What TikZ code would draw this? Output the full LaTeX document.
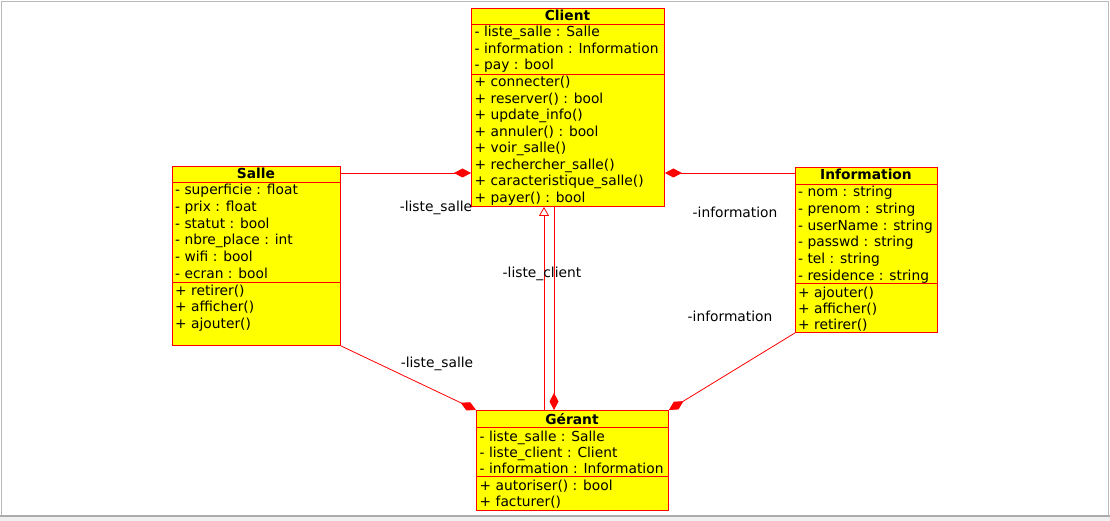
\documentclass[tikz,border=0pt]{standalone}
\usepackage{fontspec}
\setmainfont{DejaVu Sans}
\usetikzlibrary{arrows.meta}

\definecolor{umlyellow}{RGB}{255,255,0}
\definecolor{umlred}{RGB}{255,0,0}
\newcommand{\umlfont}{\fontsize{13.8}{16.5}\selectfont}
\tikzset{
  classbox/.style={draw=umlred, fill=umlyellow, line width=0.9pt, inner sep=0pt, anchor=north west},
  sepline/.style={draw=umlred, line width=0.9pt},
  member/.style={anchor=base west, inner sep=0pt, font=\umlfont},
  ctitle/.style={anchor=base, inner sep=0pt, font=\umlfont\bfseries},
  role/.style={anchor=base, inner sep=0pt, font=\umlfont},
  compo/.style={color=umlred, line width=0.8pt, -{Diamond[length=17pt,width=9pt]}},
  gener/.style={color=umlred, line width=0.8pt, -{Triangle[open,fill=white,length=9pt,width=10pt]}},
}

\begin{document}
\begin{tikzpicture}[x=1pt, y=-1pt]
\useasboundingbox (0,0) rectangle (1110,521);
% frame
\fill[gray!12] (0,517) rectangle (1110,521);
\draw[gray!55, line width=1pt] (1.5,516) -- (1.5,1.5) -- (1108.5,1.5) -- (1108.5,516);
\draw[gray!65, line width=2pt] (0,516) -- (1110,516);

% Client
\node[classbox, minimum width=193pt, minimum height=198pt] (client) at (471,8) {};
\draw[sepline] (471,24) -- (664,24) (471,74) -- (664,74);
\node[ctitle] (client-t) at (567.5,21) {Client};
\foreach \t [count=\i from 0] in {- liste\_salle : Salle, - information : Information, - pay : bool}
  \node[member] (client-a\i) at (474.5,37+16.5*\i) {\t};
\foreach \t [count=\i from 0] in {+ connecter(), + reserver() : bool, + update\_info(), + annuler() : bool,
  + voir\_salle(), + rechercher\_salle(), + caracteristique\_salle(), + payer() : bool}
  \node[member] (client-m\i) at (474.5,87+16.5*\i) {\t};

% Salle
\node[classbox, minimum width=168pt, minimum height=179pt] (salle) at (172,166) {};
\draw[sepline] (172,182) -- (340,182) (172,282) -- (340,282);
\node[ctitle] (salle-t) at (256,179) {Salle};
\foreach \t [count=\i from 0] in {- superficie : float, - prix : float, - statut : bool, - nbre\_place : int,
  - wifi : bool, - ecran : bool}
  \node[member] (salle-a\i) at (175,195+16.6*\i) {\t};
\foreach \t [count=\i from 0] in {+ retirer(), + afficher(), + ajouter()}
  \node[member] (salle-m\i) at (175,295+16.5*\i) {\t};

% Information
\node[classbox, minimum width=142pt, minimum height=165pt] (information) at (795,167) {};
\draw[sepline] (795,184) -- (937,184) (795,283) -- (937,283);
\node[ctitle] (information-t) at (866,180) {Information};
\foreach \t [count=\i from 0] in {- nom : string, - prenom : string, - userName : string, - passwd : string,
  - tel : string, - residence : string}
  \node[member] (information-a\i) at (798,197+16.6*\i) {\t};
\foreach \t [count=\i from 0] in {+ ajouter(), + afficher(), + retirer()}
  \node[member] (information-m\i) at (798,297+16.3*\i) {\t};

% Gerant
\node[classbox, minimum width=192pt, minimum height=100pt] (gerant) at (476,410) {};
\draw[sepline] (476,427) -- (668,427) (476,476) -- (668,476);
\node[ctitle] (gerant-t) at (572,424) {Gérant};
\foreach \t [count=\i from 0] in {- liste\_salle : Salle, - liste\_client : Client, - information : Information}
  \node[member] (gerant-a\i) at (479.5,441+16*\i) {\t};
\foreach \t [count=\i from 0] in {+ autoriser() : bool, + facturer()}
  \node[member] (gerant-m\i) at (479.5,490+16*\i) {\t};

% associations
\draw[compo] (salle.north east) ++(0,7) coordinate (sc) -- (sc -| client.west);
\draw[compo] (information.north west) ++(0,6) coordinate (ic) -- (ic -| client.east);
\draw[gener] (gerant.north west) ++(68,0) coordinate (gc) -- (gc |- client.south);
\draw[compo] (client.south west) ++(83,0) coordinate (cg) -- (cg |- gerant.north);
\draw[compo] (salle.south east) -- (gerant.north west);
\draw[compo] (information.south west) -- (gerant.north east);

% roles
\node[role] (r-cs) at (436,212) {-liste\_salle};
\node[role] (r-ci) at (735,218) {-information};
\node[role] (r-gc) at (542,277) {-liste\_client};
\node[role] (r-gs) at (437,367) {-liste\_salle};
\node[role] (r-gi) at (730,321) {-information};
\end{tikzpicture}
\end{document}
